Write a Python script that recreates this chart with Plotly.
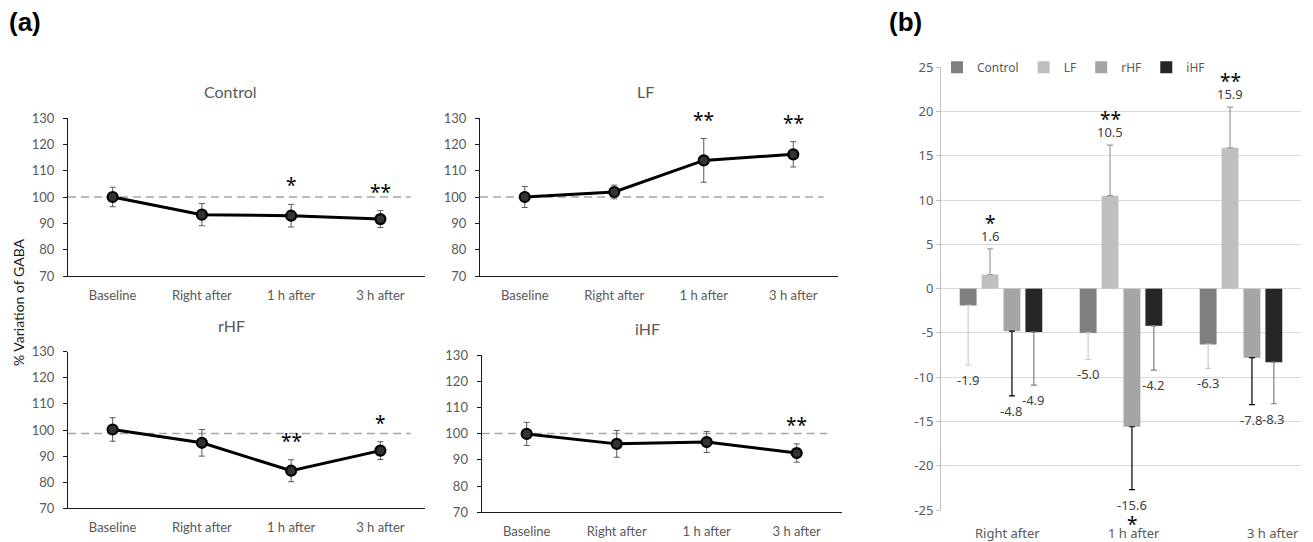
import plotly.graph_objects as go

# ---------------- data: panel (a) ----------------
times = ["Baseline", "Right after", "1 h after", "3 h after"]
panel_titles = ["Control", "LF", "rHF", "iHF"]

control_mean = [100.0, 93.3, 92.9, 91.6]
control_err = [3.7, 4.2, 4.3, 3.2]
control_sig = ["", "", "*", "**"]
control_ref = 100.0

lf_mean = [100.0, 101.9, 113.9, 116.2]
lf_err = [4.0, 2.6, 8.3, 4.8]
lf_sig = ["", "", "**", "**"]
lf_ref = 100.0

rhf_mean = [100.2, 95.1, 84.4, 92.1]
rhf_err = [4.5, 5.1, 4.2, 3.4]
rhf_sig = ["", "", "**", "*"]
rhf_ref = 98.7

ihf_mean = [99.9, 96.1, 96.8, 92.6]
ihf_err = [4.4, 5.1, 4.0, 3.5]
ihf_sig = ["", "", "", "**"]
ihf_ref = 100.1

# ---------------- data: panel (b) ----------------
change_times = ["Right after", "1 h after", "3 h after"]
groups = ["Control", "LF", "rHF", "iHF"]
change_control = [-1.9, -5.0, -6.3]
change_lf = [1.6, 10.5, 15.9]
change_rhf = [-4.8, -15.6, -7.8]
change_ihf = [-4.9, -4.2, -8.3]
cerr_control = [6.7, 3.0, 2.7]
cerr_lf = [2.9, 5.7, 4.6]
cerr_rhf = [7.3, 7.1, 5.3]
cerr_ihf = [6.0, 5.0, 4.7]
csig_control = ["", "", ""]
csig_lf = ["*", "**", "**"]
csig_rhf = ["", "*", ""]
csig_ihf = ["", "", ""]
b_yticks = [-25, -20, -15, -10, -5, 0, 5, 10, 15, 20, 25]

# ---------------- layout helpers ----------------
# the page body has an 8px margin, so the figure is sized to fit the window
PAGE_W, PAGE_H, OFF = 1313, 542, 8
W, H = PAGE_W - OFF, PAGE_H - OFF
FONT_A = "Lato"
FONT_B = "Noto Sans"
STAR_FONT = "Noto Sans"
GRAY_TXT = "#595959"


def fx(p):
    return (p - OFF) / W


def fy(p):
    return 1 - (p - OFF) / H


def px_x(a, b):
    return [fx(a), fx(b)]


def px_y(top, bottom):
    return [fy(bottom), fy(top)]


fig = go.Figure()

panels = [
    (control_mean, control_err, control_sig, control_ref, "x", "y"),
    (lf_mean, lf_err, lf_sig, lf_ref, "x2", "y2"),
    (rhf_mean, rhf_err, rhf_sig, rhf_ref, "x3", "y3"),
    (ihf_mean, ihf_err, ihf_sig, ihf_ref, "x4", "y4"),
]
domains = [
    (px_x(68, 425), px_y(118, 276)),
    (px_x(480, 838), px_y(118, 276)),
    (px_x(68, 425), px_y(351.7, 508.3)),
    (px_x(481.7, 841.7), px_y(355, 512.3)),
]
title_pos = [(230, 91), (645, 91), (231, 325), (647, 328)]

annotations = []
shapes = []
layout_axes = {}

for k, (mean, err, sig, ref, xa, ya) in enumerate(panels):
    fig.add_trace(go.Scatter(
        x=times, y=mean, xaxis=xa, yaxis=ya, mode="lines+markers",
        line=dict(color="black", width=3),
        marker=dict(size=10, color="#333333", line=dict(color="black", width=2.2)),
        error_y=dict(type="data", array=err, color="#5a5a5a", thickness=1, width=3),
        showlegend=False, cliponaxis=False,
    ))
    xname = "xaxis" if xa == "x" else "xaxis" + xa[1:]
    yname = "yaxis" if ya == "y" else "yaxis" + ya[1:]
    dx, dy = domains[k]
    layout_axes[xname] = dict(
        domain=dx, anchor=ya, type="category", range=[-0.5, 3.5],
        showline=True, linecolor="#1a1a1a", linewidth=1.3, ticks="",
        showgrid=False, zeroline=False, ticklabelstandoff=7, automargin=False,
        tickfont=dict(family=FONT_A, size=13, color=GRAY_TXT), fixedrange=True,
    )
    layout_axes[yname] = dict(
        domain=dy, anchor=xa, range=[70, 130], dtick=10, tick0=70,
        showline=True, linecolor="#1a1a1a", linewidth=1.3, ticks="outside",
        ticklen=4, tickcolor="#1a1a1a", showgrid=False, zeroline=False,
        ticklabelstandoff=6, automargin=False,
        tickfont=dict(family=FONT_A, size=13, color=GRAY_TXT), fixedrange=True,
    )
    # dashed reference line
    shapes.append(dict(
        type="line", xref=xa + " domain", yref=ya, x0=0, x1=0.96, y0=ref, y1=ref,
        line=dict(color="#a6a6a6", width=1.5, dash="8px,5px"), layer="below",
    ))
    # significance marks
    for i, s in enumerate(sig):
        if s:
            annotations.append(dict(
                x=times[i], y=mean[i] + err[i], xref=xa, yref=ya, text=s,
                showarrow=False, xanchor="center", yanchor="middle", yshift=19,
                font=dict(family=STAR_FONT, size=19, color="black"),
            ))
    tx, ty = title_pos[k]
    annotations.append(dict(
        x=fx(tx), y=fy(ty), xref="paper", yref="paper", text=panel_titles[k],
        showarrow=False, xanchor="center", yanchor="middle",
        font=dict(family=FONT_A, size=16, color=GRAY_TXT),
    ))

# ---------------- panel (b) ----------------
bar_colors = ["#7f7f7f", "#bfbfbf", "#a5a5a5", "#262626"]
err_colors = ["#cccccc", "#9a9a9a", "#000000", "#7f7f7f"]
series = [
    (change_control, cerr_control, csig_control),
    (change_lf, cerr_lf, csig_lf),
    (change_rhf, cerr_rhf, csig_rhf),
    (change_ihf, cerr_ihf, csig_ihf),
]
BARGAP, GROUPGAP = 0.27, 0.23
idx = list(range(len(change_times)))
slot = (1 - BARGAP) / len(groups)

for k, (vals, errs, sigs) in enumerate(series):
    up = [e if v > 0 else 0 for v, e in zip(vals, errs)]
    dn = [e if v < 0 else 0 for v, e in zip(vals, errs)]
    fig.add_trace(go.Bar(
        x=idx, y=vals, name=groups[k], xaxis="x5", yaxis="y5",
        marker=dict(color=bar_colors[k], line=dict(width=0)),
        error_y=dict(type="data", symmetric=False, array=up, arrayminus=dn,
                     color=err_colors[k], thickness=1.2, width=3),
        showlegend=True,
    ))
    # value labels (and stars) placed beyond the error bar ends
    off = -(1 - BARGAP) / 2 + slot * (k + 0.5)
    for i, (v, e, s) in enumerate(zip(vals, errs, sigs)):
        pos = v >= 0
        lx, ly = i + off, (v + e if pos else v - e)
        annotations.append(dict(
            x=lx, y=ly, xref="x5", yref="y5", text=f"{v:.1f}", showarrow=False,
            xanchor="center", yanchor="bottom" if pos else "top",
            yshift=2 if pos else -4,
            font=dict(family=FONT_B, size=13, color="#404040"),
        ))
        if s:
            annotations.append(dict(
                x=lx, y=ly, xref="x5", yref="y5", text=s, showarrow=False,
                xanchor="center", yanchor="middle", yshift=26 if pos else -34,
                font=dict(family=STAR_FONT, size=19, color="black"),
            ))

layout_axes["xaxis5"] = dict(
    domain=px_x(941, 1301), anchor="y5", range=[-0.5, len(change_times) - 0.5],
    showticklabels=False, showgrid=False, zeroline=False, showline=False,
    ticks="", fixedrange=True, automargin=False,
)
layout_axes["yaxis5"] = dict(
    domain=px_y(67.3, 510), anchor="x5", range=[-25, 25],
    tickvals=b_yticks, ticktext=[str(t) for t in b_yticks],
    showgrid=True, gridcolor="#d9d9d9", gridwidth=1, zeroline=False,
    showline=True, linecolor="#bfbfbf", linewidth=1, ticks="outside",
    ticklen=4, tickcolor="#bfbfbf", automargin=False,
    tickfont=dict(family=FONT_B, size=13, color=GRAY_TXT), fixedrange=True,
)

# category labels of panel (b), set slightly right as in the source figure
label_shift = [7, 13, 32]
for i, lab in enumerate(change_times):
    annotations.append(dict(
        x=i, y=fy(533), xref="x5", yref="paper", text=lab, showarrow=False,
        xanchor="center", yanchor="middle", xshift=label_shift[i],
        font=dict(family=FONT_B, size=13, color=GRAY_TXT),
    ))

# panel letters and shared y-title
annotations += [
    dict(x=fx(25), y=fy(22), xref="paper", yref="paper", text="<b>(a)</b>",
         showarrow=False, xanchor="center", yanchor="middle",
         font=dict(family="Liberation Sans", size=26, color="black")),
    dict(x=fx(905), y=fy(22), xref="paper", yref="paper", text="<b>(b)</b>",
         showarrow=False, xanchor="center", yanchor="middle",
         font=dict(family="Liberation Sans", size=26, color="black")),
    dict(x=fx(18), y=fy(302), xref="paper", yref="paper",
         text="% Variation of GABA", textangle=-90, showarrow=False,
         xanchor="center", yanchor="middle", borderpad=0,
         font=dict(family=FONT_A, size=14, color="#1a1a1a")),
]

fig.update_layout(
    width=W, height=H, margin=dict(l=0, r=0, t=0, b=0, pad=0),
    paper_bgcolor="white", plot_bgcolor="white",
    barmode="group", bargap=BARGAP, bargroupgap=GROUPGAP,
    annotations=annotations, shapes=shapes,
    legend=dict(orientation="h", x=fx(937), xanchor="left", y=fy(67.3),
                yanchor="middle", itemwidth=30, bgcolor="rgba(0,0,0,0)",
                font=dict(family=FONT_B, size=12, color=GRAY_TXT)),
    **layout_axes,
)

fig.write_html("out.html")
